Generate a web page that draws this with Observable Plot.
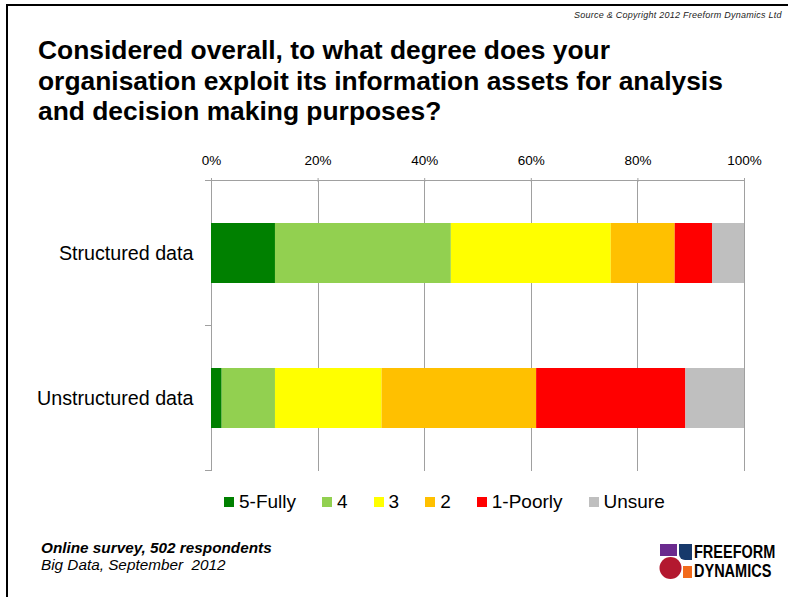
<!DOCTYPE html>
<html>
<head>
<meta charset="utf-8">
<script src="https://cdn.jsdelivr.net/npm/d3@7"></script>
<script src="https://cdn.jsdelivr.net/npm/@observablehq/plot@0.6"></script>
<style>
  html, body { margin: 0; padding: 0; background: #fff; }
  #page { position: relative; width: 788px; height: 597px; overflow: hidden; background: #fff;
          font-family: "Liberation Sans", Arial, sans-serif; color: #000; }
  #border-top { position: absolute; left: 6px; top: 4px; right: 0; height: 2px; background: #000; }
  #border-left { position: absolute; left: 6px; top: 4px; bottom: 0; width: 2px; background: #000; }
  #source { position: absolute; left: 574px; top: 10px; font-size: 9px; font-style: italic;
            letter-spacing: 0.25px; white-space: nowrap; color: #222; }
  #title { position: absolute; left: 38px; top: 35px; font-size: 26.4px; font-weight: bold;
           line-height: 30.5px; white-space: nowrap; }
  #chart { position: absolute; left: 0; top: 140px; }
  #legend { position: absolute; left: 224px; top: 485px; }
  #note { position: absolute; left: 41px; top: 539px; font-size: 15.3px; line-height: 17px;
          font-style: italic; white-space: pre; }
  #note b { font-weight: bold; }
  #logo { position: absolute; left: 655px; top: 538px; }
  .lg-swatches { margin: 0 !important; }
  .lg-swatches-wrap .lg-swatch { margin-right: 26px; }
  .lg-swatch > svg { margin-right: 5px; }
</style>
</head>
<body>
<div id="page">
  <div id="border-top"></div>
  <div id="border-left"></div>
  <div id="source">Source &amp; Copyright 2012 Freeform Dynamics Ltd</div>
  <div id="title">Considered overall, to what degree does your<br>organisation exploit its information assets for analysis<br>and decision making purposes?</div>
  <div id="chart"></div>
  <div id="legend"></div>
  <div id="note"><b>Online survey, 502 respondents</b>
Big Data, September  2012</div>
  <svg id="logo" width="131" height="46" viewBox="655 538 131 46">
    <rect x="660" y="544" width="17" height="12" fill="#6a2a8e"></rect>
    <path d="M679 544 H692 V560 H685 A6 6 0 0 1 679 554 Z" fill="#17396b"></path>
    <circle cx="670.5" cy="568" r="11" fill="#b3182f"></circle>
    <rect x="683" y="566" width="9" height="12" fill="#f26a1b"></rect>
    <g font-family="'Liberation Sans', Arial, sans-serif" font-weight="bold" font-size="14.5">
      <text transform="translate(694,558) scale(1,1.25)">FREEFORM</text>
      <text transform="translate(694,577) scale(1,1.25)">DYNAMICS</text>
    </g>
  </svg>
</div>
<script>
// Survey answers, in percent of respondents
const categories = ["Structured data", "Unstructured data"];
const responses = ["5-Fully", "4", "3", "2", "1-Poorly", "Unsure"];
const responseColors = ["#008000", "#92D050", "#FFFF00", "#FFC000", "#FF0000", "#BFBFBF"];
const structuredPct = [12, 33, 30, 12, 7, 6];
const unstructuredPct = [2, 10, 20, 29, 28, 11];
const percentTicks = [0, 20, 40, 60, 80, 100];

const seriesByCategory = [structuredPct, unstructuredPct];
const rows = categories.flatMap((category, i) =>
  seriesByCategory[i].map((value, j) => ({category, response: responses[j], value}))
);

// Top axis line plus the short category-boundary ticks on the left axis
function categoryFrame(index, {x, y}) {
  const step = y.step();
  const tops = y.domain().map((c) => y(c) + y.bandwidth() / 2 - step / 2);
  const bottom = tops[tops.length - 1] + step;
  const x0 = x(0), x1 = x(100);
  const g = d3.create("svg:g")
    .attr("stroke", "#a0a0a0")
    .attr("fill", "none")
    .attr("shape-rendering", "crispEdges");
  g.append("line").attr("x1", x0 - 6).attr("x2", x1).attr("y1", tops[0]).attr("y2", tops[0]);
  for (const b of [...tops.slice(1), bottom]) {
    g.append("line").attr("x1", x0 - 6).attr("x2", x0).attr("y1", b).attr("y2", b);
  }
  return g.node();
}

const chart = Plot.plot({
  width: 788,
  height: 340,
  marginTop: 41,
  marginBottom: 9,
  marginLeft: 211,
  marginRight: 44,
  style: {
    fontFamily: '"Liberation Sans", Arial, sans-serif',
    background: "transparent",
    color: "#000",
    overflow: "visible"
  },
  x: {domain: [0, 100]},
  y: {domain: categories, paddingInner: 0.585, paddingOuter: 0.2925, align: 0.5},
  color: {domain: responses, range: responseColors},
  marks: [
    Plot.ruleX(percentTicks, {stroke: "#a0a0a0", strokeWidth: 1, shapeRendering: "crispEdges"}),
    Plot.barX(rows, Plot.stackX({x: "value", y: "category", fill: "response"})),
    Plot.axisX({
      anchor: "top",
      ticks: percentTicks,
      tickFormat: (d) => d + "%",
      tickSize: 4,
      tickPadding: 13,
      fontSize: 13.5,
      stroke: "#a0a0a0",
      fill: "#000",
      label: null
    }),
    Plot.axisY({tickSize: 0, tickPadding: 18, fontSize: 19.7, fill: "#000", label: null}),
    categoryFrame
  ]
});
document.getElementById("chart").append(chart);

const legend = chart.legend("color", {
  swatchSize: 10,
  className: "lg",
  style: {fontFamily: '"Liberation Sans", Arial, sans-serif', fontSize: "19px", color: "#000"}
});
document.getElementById("legend").append(legend);
</script>
</body>
</html>
